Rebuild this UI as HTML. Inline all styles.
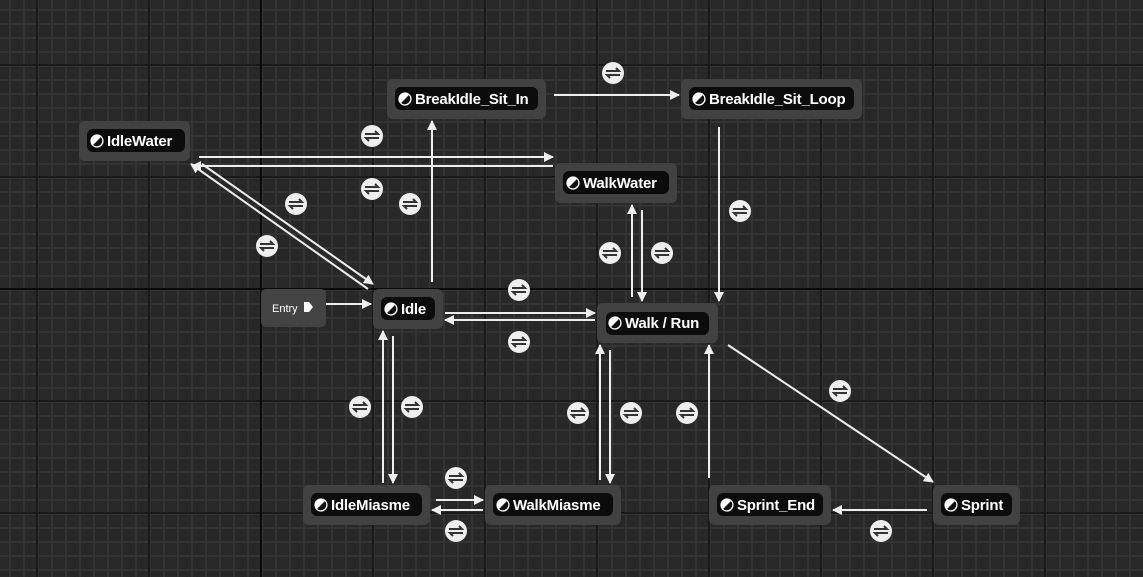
<!DOCTYPE html>
<html><head><meta charset="utf-8"><style>
html,body{margin:0;padding:0;background:#262626;width:1143px;height:577px;overflow:hidden}
svg{display:block}
text{font-family:"Liberation Sans",sans-serif;font-weight:bold;fill:#fff}
</style></head><body>
<svg width="1143" height="577" viewBox="0 0 1143 577" xmlns="http://www.w3.org/2000/svg">
<defs>
<pattern id="minor" x="9" y="9" width="14" height="14" patternUnits="userSpaceOnUse">
<rect width="14" height="14" fill="#282828"/>
<rect width="2" height="14" fill="#343434"/><rect width="14" height="2" fill="#343434"/>
</pattern>
<marker id="ah" markerWidth="10" markerHeight="10" refX="9" refY="5" orient="auto" markerUnits="userSpaceOnUse"><path d="M0,0 L10,5 L0,10 z" fill="#eee"/></marker>
<g id="tr"><circle r="11" fill="#eee"/><path d="M-7,-2 H6 L3,-5 M7,2 H-6 L-3,5" stroke="#333" stroke-width="2" fill="none"/></g>
<g id="ic"><circle r="6" fill="#fff"/><path d="M4.2,-4.2 A6,6 0 0 1 -4.2,4.2 Z" fill="#111"/><circle r="6" fill="none" stroke="#fff" stroke-width="1.2"/></g>
</defs>
<rect width="1143" height="577" fill="url(#minor)"/>
<g fill="#1a1a1a">
<rect x="36" y="0" width="2" height="577"/><rect x="148" y="0" width="2" height="577"/><rect x="372" y="0" width="2" height="577"/><rect x="484" y="0" width="2" height="577"/><rect x="596" y="0" width="2" height="577"/><rect x="708" y="0" width="2" height="577"/><rect x="820" y="0" width="2" height="577"/><rect x="932" y="0" width="2" height="577"/><rect x="1044" y="0" width="2" height="577"/>
<rect x="0" y="64" width="1143" height="2"/><rect x="0" y="176" width="1143" height="2"/><rect x="0" y="400" width="1143" height="2"/><rect x="0" y="512" width="1143" height="2"/>
</g>
<rect x="260" y="0" width="2" height="577" fill="#0a0a0a"/>
<rect x="0" y="288" width="1143" height="2" fill="#0a0a0a"/>

<g stroke="#eee" stroke-width="2" fill="none" marker-end="url(#ah)">
<line x1="326" y1="304" x2="371" y2="304"/>
<line x1="432" y1="282" x2="432" y2="121"/>
<line x1="554" y1="95" x2="679" y2="95"/>
<line x1="719" y1="127" x2="719" y2="301"/>
<line x1="199" y1="157" x2="553" y2="157"/>
<line x1="553" y1="166" x2="192" y2="166"/>
<line x1="202" y1="164" x2="373" y2="284"/>
<line x1="368" y1="289" x2="191" y2="164"/>
<line x1="632" y1="297" x2="632" y2="205"/>
<line x1="642" y1="210" x2="642" y2="301"/>
<line x1="445" y1="313" x2="595" y2="313"/>
<line x1="595" y1="320" x2="445" y2="320"/>
<line x1="383" y1="483" x2="383" y2="331"/>
<line x1="393" y1="336" x2="393" y2="483"/>
<line x1="436" y1="500" x2="483" y2="500"/>
<line x1="483" y1="510" x2="432" y2="510"/>
<line x1="600" y1="480" x2="600" y2="345"/>
<line x1="610" y1="350" x2="610" y2="483"/>
<line x1="709" y1="478" x2="709" y2="345"/>
<line x1="728" y1="345" x2="933" y2="482"/>
<line x1="927" y1="510" x2="833" y2="510"/>
</g>

<g>
<use href="#tr" x="613" y="73"/><use href="#tr" x="372" y="136"/><use href="#tr" x="372" y="189"/><use href="#tr" x="410" y="204"/><use href="#tr" x="296" y="204"/><use href="#tr" x="267" y="246"/><use href="#tr" x="740" y="211"/><use href="#tr" x="610" y="253"/><use href="#tr" x="662" y="253"/><use href="#tr" x="519" y="290"/><use href="#tr" x="519" y="342"/><use href="#tr" x="360" y="407"/><use href="#tr" x="412" y="407"/><use href="#tr" x="578" y="413"/><use href="#tr" x="631" y="413"/><use href="#tr" x="687" y="413"/><use href="#tr" x="840" y="391"/><use href="#tr" x="456" y="478"/><use href="#tr" x="456" y="531"/><use href="#tr" x="881" y="531"/>
</g>

<rect x="261" y="289" width="65" height="38" rx="5" fill="#444"/>
<text x="272" y="312" font-size="11" style="font-weight:normal">Entry</text>
<path d="M304,302 h5 l4,5 l-4,5 h-5 z" fill="#fff"/>

<g font-size="15" letter-spacing="-0.2">
<rect x="79" y="121" width="111" height="40" rx="6" fill="#424242"/><rect x="87" y="129" width="98" height="23" rx="6" fill="#0c0c0c"/><use href="#ic" x="97" y="141"/><text x="107" y="146">IdleWater</text>
<rect x="387" y="79" width="159" height="40" rx="6" fill="#424242"/><rect x="395" y="87" width="143" height="23" rx="6" fill="#0c0c0c"/><use href="#ic" x="405" y="99"/><text x="415" y="104">BreakIdle_Sit_In</text>
<rect x="681" y="79" width="181" height="40" rx="6" fill="#424242"/><rect x="689" y="87" width="165" height="23" rx="6" fill="#0c0c0c"/><use href="#ic" x="699" y="99"/><text x="709" y="104">BreakIdle_Sit_Loop</text>
<rect x="555" y="163" width="122" height="40" rx="6" fill="#424242"/><rect x="563" y="171" width="106" height="23" rx="6" fill="#0c0c0c"/><use href="#ic" x="573" y="183"/><text x="583" y="188">WalkWater</text>
<rect x="373" y="289" width="70" height="40" rx="6" fill="#424242"/><rect x="381" y="297" width="54" height="23" rx="6" fill="#0c0c0c"/><use href="#ic" x="391" y="309"/><text x="401" y="314">Idle</text>
<rect x="597" y="303" width="121" height="40" rx="6" fill="#424242"/><rect x="606" y="312" width="103" height="23" rx="6" fill="#0c0c0c"/><use href="#ic" x="615" y="323"/><text x="625" y="328">Walk / Run</text>
<rect x="303" y="485" width="127" height="40" rx="6" fill="#424242"/><rect x="311" y="493" width="111" height="23" rx="6" fill="#0c0c0c"/><use href="#ic" x="321" y="505"/><text x="331" y="510">IdleMiasme</text>
<rect x="485" y="485" width="136" height="40" rx="6" fill="#424242"/><rect x="493" y="493" width="120" height="23" rx="6" fill="#0c0c0c"/><use href="#ic" x="503" y="505"/><text x="513" y="510">WalkMiasme</text>
<rect x="709" y="485" width="122" height="40" rx="6" fill="#424242"/><rect x="717" y="493" width="106" height="23" rx="6" fill="#0c0c0c"/><use href="#ic" x="727" y="505"/><text x="737" y="510">Sprint_End</text>
<rect x="933" y="485" width="87" height="40" rx="6" fill="#424242"/><rect x="941" y="493" width="71" height="23" rx="6" fill="#0c0c0c"/><use href="#ic" x="951" y="505"/><text x="961" y="510">Sprint</text>
</g>
</svg>
</body></html>
